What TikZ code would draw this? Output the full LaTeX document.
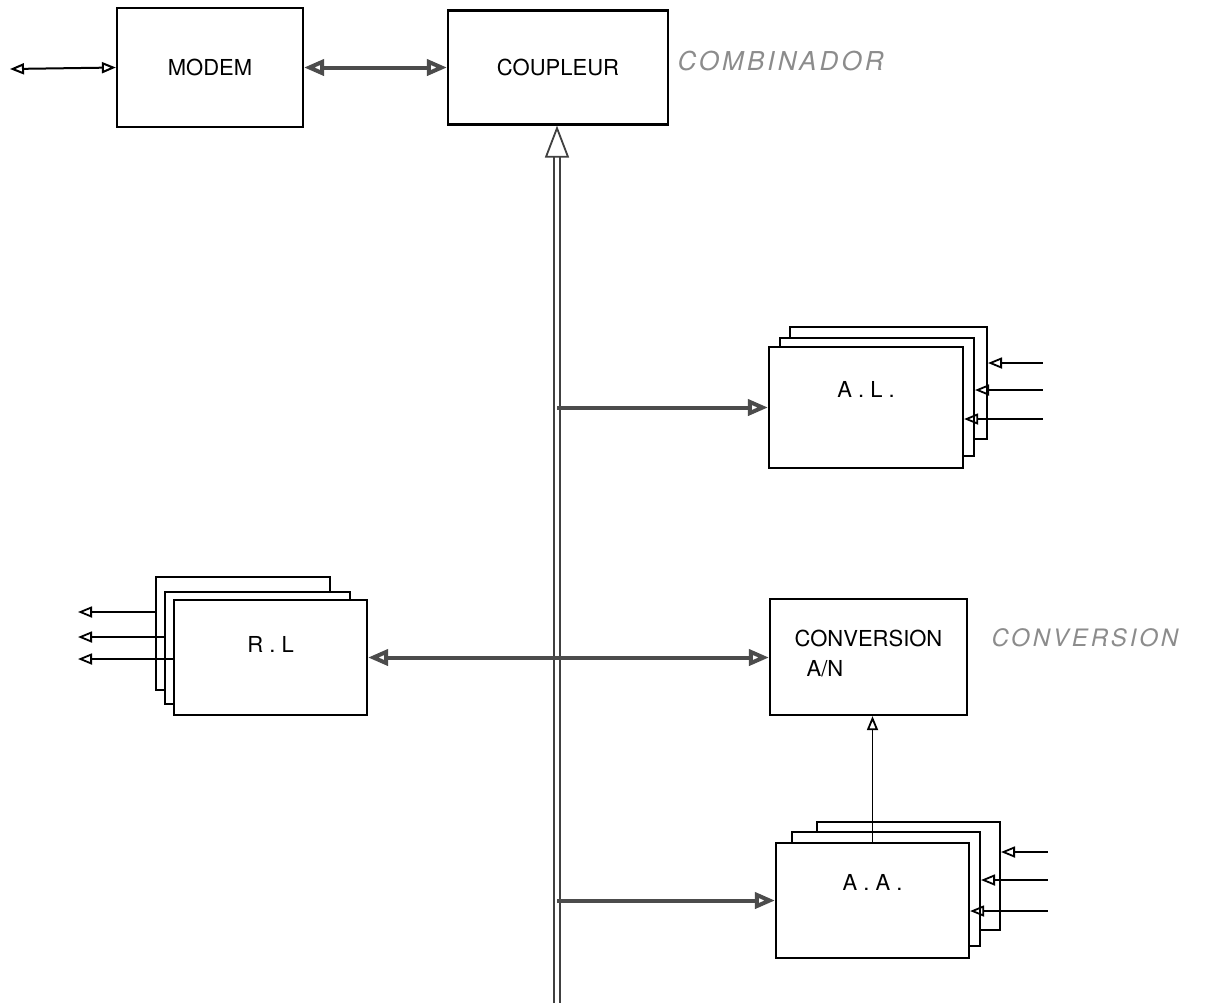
\documentclass[tikz,border=0pt]{standalone}
\usepackage{fontspec}
\setmainfont{TeX Gyre Heros}
\usetikzlibrary{arrows.meta,positioning}
\tikzset{
  blk/.style   ={rectangle, draw=black, line width=1.1pt, fill=white, inner sep=0pt,
                 align=center, font=\fontsize{11}{13.2}\selectfont,
                 text height=7.9pt, text depth=0pt},
  bak/.style   ={rectangle, draw=black, line width=1pt, fill=white, inner sep=0pt},
  hand/.style  ={font=\fontsize{12}{14}\itshape\addfontfeature{LetterSpace=12}, text=black!45, inner sep=0pt},
  ar/.style    ={-{Triangle[open, length=7pt, width=5.5pt]}, line width=0.9pt},
  inar/.style  ={{Triangle[open, length=7pt, width=5.5pt]}-, line width=0.9pt},
  dar/.style   ={{Triangle[open, length=7pt, width=5.5pt]}-{Triangle[open, length=7pt, width=5.5pt]}, line width=1pt},
  busar/.style ={-{Triangle[open, length=10pt, width=8pt]}, line width=2pt, draw=black!70},
  busdar/.style={{Triangle[open, length=10pt, width=8pt]}-{Triangle[open, length=10pt, width=8pt]},
                 line width=2pt, draw=black!70},
  bus/.style   ={-{Triangle[open, length=16pt, width=12pt]}, draw=black!75, line width=0.9pt,
                 double=white, double distance=2.4pt},
}

\begin{document}
\begin{tikzpicture}[x=0.5pt, y=-0.5pt]
\useasboundingbox[fill=white] (0,0) rectangle (1216,1003);

% top row
\node[blk, minimum width=93pt, minimum height=59.5pt] (modem) at (210,67.5) {MODEM};
\node[blk, minimum width=110pt, minimum height=57pt] (coupleur) at (558,67.5) {COUPLEUR};
\node[hand, font=\fontsize{13}{15}\itshape\addfontfeature{LetterSpace=12},
      right=4pt of coupleur, yshift=3pt] (combi) {COMBINADOR};

% A.L. stack
\node[bak, minimum width=98.5pt, minimum height=56pt] (al3) at (888.5,383) {};
\node[bak, minimum width=97pt, minimum height=59pt] (al2) at (877,397) {};
\node[blk, minimum width=97pt, minimum height=60.5pt, text depth=17.5pt] (al) at (866,407.5) {A . L .};

% R.L. stack
\node[bak, minimum width=87pt, minimum height=56.5pt] (rl3) at (243,633.5) {};
\node[bak, minimum width=92.5pt, minimum height=56pt] (rl2) at (257.5,648) {};
\node[blk, minimum width=96.5pt, minimum height=57.5pt, text depth=12.5pt] (rl) at (270.5,657.5) {R . L};

% conversion
\node[blk, minimum width=98.5pt, minimum height=58pt, text height=19.9pt, align=left]
  (conv) at (868.5,657) {CONVERSION\\[1.8pt]\hspace{6pt}A/N};
\node[hand, right=11.5pt of conv, yshift=9.5pt] (convh) {CONVERSION};

% A.A. stack
\node[bak, minimum width=91.5pt, minimum height=54pt] (aa3) at (908.5,876) {};
\node[bak, minimum width=94pt, minimum height=57pt] (aa2) at (886,889) {};
\node[blk, minimum width=96.5pt, minimum height=57.5pt, text depth=17.5pt] (aa) at (872.5,900.5) {A . A .};

% free ends
\coordinate (ext) at (10,69);
\coordinate (busend) at (557,1003);
\coordinate (ina) at (1043,363);
\coordinate (inb) at (1043,390);
\coordinate (inc) at (1043,419);
\coordinate (ind) at (1048,852);
\coordinate (ine) at (1048,880);
\coordinate (inf) at (1048,911);
\coordinate (outa) at (78,612);
\coordinate (outb) at (78,637);
\coordinate (outc) at (78,659);

\draw[dar] (ext) -- (modem.west);
\draw[busdar] (modem.east) -- (coupleur.west);
\draw[bus] (busend) -- (busend |- coupleur.south);
\draw[busar] (busend |- al.west) -- (al.west);
\draw[busdar] (rl.east) -- (rl.east -| conv.west);
\draw[busar] (busend |- aa.west) -- (aa.west);
\draw[ar] (aa.north) -- (aa.north |- conv.south);

\draw[inar] (ina -| al3.east) -- (ina);
\draw[inar] (inb -| al2.east) -- (inb);
\draw[inar] (inc -| al.east) -- (inc);
\draw[inar] (ind -| aa3.east) -- (ind);
\draw[inar] (ine -| aa2.east) -- (ine);
\draw[inar] (inf -| aa.east) -- (inf);

\draw[ar] (outa -| rl3.west) -- (outa);
\draw[ar] (outb -| rl2.west) -- (outb);
\draw[ar] (outc -| rl.west) -- (outc);
\end{tikzpicture}
\end{document}
